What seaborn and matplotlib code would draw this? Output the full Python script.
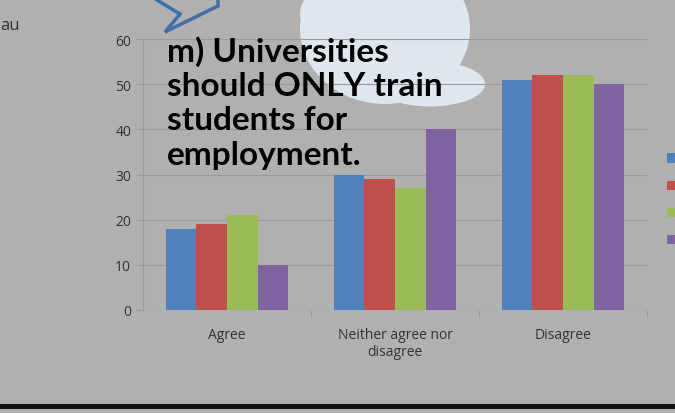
import numpy as np
import pandas as pd
import matplotlib
matplotlib.use('Agg')
import matplotlib.pyplot as plt
from matplotlib.patches import Ellipse, Rectangle, Polygon
from matplotlib.transforms import Affine2D
import seaborn as sns

# survey answers, values
categories = ['Agree', 'Neither agree nor\ndisagree', 'Disagree']
groups = ['Group 1', 'Group 2', 'Group 3', 'Group 4']
group1 = [18, 30, 51]
group2 = [19, 29, 52]
group3 = [21, 27, 52]
group4 = [10, 40, 50]
colours = ['#4F81BD', '#C0504D', '#9BBB59', '#8064A2']
title = 'm) Universities\nshould ONLY train\nstudents for\nemployment.'

rows = []
for g, vals in zip(groups, [group1, group2, group3, group4]):
    for c, v in zip(categories, vals):
        rows.append({'category': c, 'group': g, 'value': v})
df = pd.DataFrame(rows)

sns.set_style('white')
plt.rcParams['font.family'] = ['Open Sans', 'DejaVu Sans']

W, H = 675, 414
fig = plt.figure(figsize=(W / 100, H / 100), dpi=100)
fig.patch.set_facecolor('#b0b0b0')
# pixel coordinates of the slide (origin top-left)
px = Affine2D().scale(1 / W, -1 / H).translate(0, 1) + fig.transFigure

# pale cloud shape behind the chart
for (cx, cy, w, h) in [(385, 30, 170, 150), (430, 85, 110, 45), (335, 15, 70, 60)]:
    fig.add_artist(Ellipse((cx, cy), w, h, transform=px, facecolor='#dfe6ee',
                           edgecolor='none', zorder=0))
# speech bubble outline
fig.add_artist(Polygon([(147, -5), (180, 15), (165, 33), (218, 7), (218, -5)],
                       closed=False, transform=px, fill=False, edgecolor='#3f6fa6',
                       linewidth=2.5, zorder=1))
fig.text(0 / W, 1 - 26 / H, 'au', fontsize=12, color='#333333', va='center')

ax = fig.add_axes([143 / W, 1 - 311 / H, (647 - 143) / W, (311 - 40) / H])
ax.set_facecolor('none')
ax.set_zorder(2)

sns.barplot(data=df, x='category', y='value', hue='group', palette=colours,
            width=0.73, saturation=1, ax=ax, legend=True, edgecolor='none')

ax.set_ylim(0, 60)
ax.set_xlim(-0.5, 2.5)
ax.set_yticks(np.arange(0, 61, 10))
ax.grid(axis='y', color='#9a9a9a', linewidth=0.8)
ax.set_axisbelow(True)
for s in ['top', 'right', 'bottom']:
    ax.spines[s].set_visible(False)
ax.spines['left'].set_color('#9a9a9a')
ax.spines['left'].set_linewidth(0.8)
ax.axhline(0, color='#9a9a9a', linewidth=0.8, zorder=0.5)
ax.set_xlabel('')
ax.set_ylabel('')
ax.tick_params(axis='y', length=5, color='#9a9a9a', labelsize=10, labelcolor='#333333', left=True)
ax.tick_params(axis='x', which='major', length=0, labelsize=10, labelcolor='#333333', pad=12)
ax.set_xticks([0.5, 1.5, 2.5], minor=True)
ax.tick_params(axis='x', which='minor', length=5, color='#9a9a9a', bottom=True)

# legend keys only: the labels run off the right edge of the slide
handles, labels = ax.get_legend_handles_labels()
ax.get_legend().remove()
fig.legend(handles, [''] * len(handles), loc='upper left', bbox_to_anchor=(660 / W, 1 - 146 / H),
           frameon=False, fontsize=10, handlelength=0.65, handleheight=0.65,
           labelspacing=0.88, handletextpad=0.5, borderpad=0)

fig.text(167 / W, 1 - 36 / H, title, fontsize=24, fontweight='bold', color='black',
         va='top', ha='left', linespacing=1.22, zorder=5,
         family=['Lato', 'DejaVu Sans'])

# dark band at the bottom of the slide
fig.add_artist(Rectangle((0, 405), W, 5, transform=px, facecolor='#111111',
                         edgecolor='none', zorder=3))

fig.savefig('out.png', dpi=100, facecolor=fig.get_facecolor())
